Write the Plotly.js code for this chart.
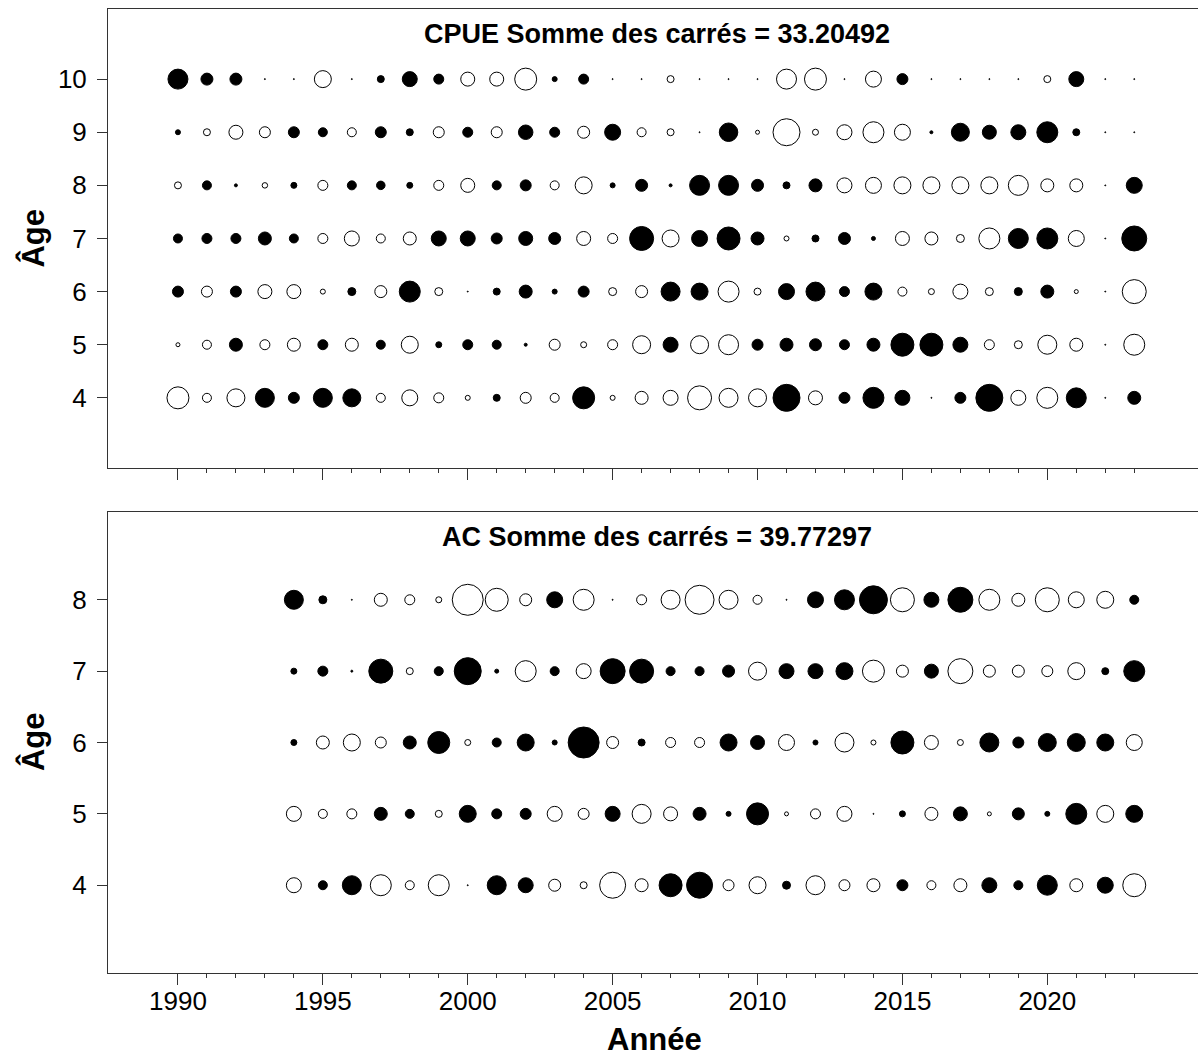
<!DOCTYPE html>
<html>
<head>
<meta charset="utf-8">
<script src="https://cdn.plot.ly/plotly-3.0.1.min.js"></script>
<style>
  html, body { margin: 0; padding: 0; background: #fff; }
  #chart { width: 1198px; height: 1057px; }
</style>
</head>
<body>
<div id="chart"></div>
<script>
// Residuals by age (rows) and year (columns). Filled = positive, open = negative.
const cpueYears = [1990,1991,1992,1993,1994,1995,1996,1997,1998,1999,
                   2000,2001,2002,2003,2004,2005,2006,2007,2008,2009,
                   2010,2011,2012,2013,2014,2015,2016,2017,2018,2019,
                   2020,2021,2022,2023];
const cpueAges = [4,5,6,7,8,9,10];

const cpueAge10 = [2.0,1.2,1.2,0.1,0.1,-1.7,0.1,0.7,1.5,1.0,
                   -1.4,-1.4,-2.2,0.5,1.0,0.1,0.1,-0.7,0.1,0.1,
                   0.1,-2.0,-2.2,0.1,-1.6,1.1,0.1,0.1,0.1,0.1,
                   -0.7,1.5,0.1,0.1];
const cpueAge9  = [0.5,-0.7,-1.4,-1.1,1.1,0.9,-0.9,1.1,0.7,-1.1,
                   1.0,-1.1,1.45,1.0,-1.2,1.6,-0.9,-0.7,0.1,1.85,
                   -0.4,-2.7,-0.6,-1.5,-2.1,-1.6,0.3,1.8,1.4,1.5,
                   2.1,0.7,0.1,0.1];
const cpueAge8  = [-0.7,0.9,0.3,-0.55,0.6,-1.0,0.9,0.85,0.6,-1.0,
                   -1.4,0.9,1.1,-0.9,-1.7,0.5,1.2,0.3,2.0,2.0,
                   1.2,0.7,1.3,-1.5,-1.6,-1.7,-1.7,-1.7,-1.7,-2.0,
                   -1.3,-1.3,0.1,1.6];
const cpueAge7  = [0.9,1.0,1.0,1.3,0.9,-1.0,-1.5,-0.9,-1.3,1.5,
                   1.5,1.1,1.4,1.2,-1.4,-1.0,2.4,-1.7,1.6,2.3,
                   1.3,-0.5,0.7,1.2,0.4,-1.4,-1.3,-0.8,-2.1,2.0,
                   2.1,-1.6,0.1,2.5];
const cpueAge6  = [1.1,-1.1,1.1,-1.4,-1.4,-0.5,0.8,-1.2,2.1,-0.8,
                   0.1,0.7,1.3,0.5,1.1,-0.8,-1.2,1.9,1.7,-2.1,
                   -0.7,1.6,1.9,1.0,1.7,-0.9,-0.6,-1.5,-0.8,0.8,
                   1.3,-0.4,0.1,-2.4];
const cpueAge5  = [-0.4,-0.9,1.3,-1.0,-1.3,1.0,-1.3,0.9,-1.7,0.6,
                   1.0,0.9,0.3,-1.1,-0.6,-1.0,-1.8,1.5,-1.8,-2.0,
                   1.1,1.3,1.2,1.0,1.3,2.3,2.3,1.5,-1.0,-0.8,
                   -1.9,-1.3,0.1,-2.1];
const cpueAge4  = [-2.2,-0.9,-1.8,1.9,1.1,1.9,1.8,-0.9,-1.6,-1.0,
                   -0.5,0.7,-1.1,-0.9,2.2,-0.5,-1.3,-1.5,-2.4,-1.9,
                   -1.8,2.7,-1.4,1.1,2.1,1.5,0.1,1.1,2.7,-1.5,
                   -2.1,2.0,0.1,1.3];

const acYears = [1994,1995,1996,1997,1998,1999,
                 2000,2001,2002,2003,2004,2005,2006,2007,2008,2009,
                 2010,2011,2012,2013,2014,2015,2016,2017,2018,2019,
                 2020,2021,2022,2023];
const acAges = [4,5,6,7,8];

const acAge8 = [1.9,0.8,0.1,-1.3,-1.0,-0.6,
                -3.1,-2.3,-1.2,1.6,-2.1,0.1,-1.0,-1.9,-2.9,-1.9,
                -0.9,0.1,1.6,2.0,2.8,-2.4,1.5,2.5,-2.1,-1.3,
                -2.4,-1.6,-1.7,0.9];
const acAge7 = [0.6,1.0,0.2,2.4,-0.7,0.9,
                2.7,0.4,-2.1,0.9,-1.5,2.5,2.4,0.9,0.9,1.2,
                -1.8,1.5,1.5,1.7,-2.2,-1.2,1.4,-2.5,-1.2,-1.2,
                -1.1,-1.7,0.7,2.1];
const acAge6 = [0.6,-1.3,-1.7,-1.1,1.3,2.2,
                -0.6,0.9,1.7,0.5,3.1,-1.2,0.7,-1.0,-1.0,1.7,
                1.4,-1.6,0.5,-1.9,-0.5,2.3,-1.4,-0.6,1.9,1.1,
                1.8,1.8,1.7,-1.6];
const acAge5 = [-1.5,-0.9,-1.0,1.3,0.9,-0.7,
                1.7,1.0,1.1,-1.5,-1.1,1.5,-1.9,-1.4,1.3,0.5,
                2.2,-0.4,-1.0,-1.5,0.1,0.6,-1.3,1.4,-0.4,1.2,
                0.5,2.1,-1.7,1.7];
const acAge4 = [-1.5,0.9,1.9,-2.1,-0.9,-2.1,
                0.1,1.9,1.5,-1.2,-0.7,-2.6,-1.3,2.3,2.6,-1.1,
                -1.7,0.8,-1.9,-1.1,-1.3,1.1,-0.9,-1.3,1.5,0.9,
                2.0,-1.3,1.6,-2.3];

const cpueTitle = 'CPUE Somme des carrés = 33.20492';
const acTitle = 'AC Somme des carrés = 39.77297';
const majorYears = [1990,1995,2000,2005,2010,2015,2020];

// bubble diameter (px) per unit of residual
const PX_PER_UNIT = 10;

function bubbles(years, ages, rows, xa, ya) {
  const x = [], y = [], size = [], color = [], text = [];
  ages.forEach((age, i) => {
    rows[i].forEach((r, j) => {
      x.push(years[j]);
      y.push(age);
      size.push(Math.max(1, Math.abs(r) * PX_PER_UNIT));
      color.push(r >= 0 ? '#000000' : '#ffffff');
      text.push('Résidu : ' + r);
    });
  });
  return {
    type: 'scatter', mode: 'markers', x, y, text,
    xaxis: xa, yaxis: ya,
    hovertemplate: '%{x}, âge %{y}<br>%{text}<extra></extra>',
    marker: { size, color, line: { color: '#000000', width: 1 }, opacity: 1 }
  };
}

const traces = [
  bubbles(cpueYears, cpueAges,
          [cpueAge4, cpueAge5, cpueAge6, cpueAge7, cpueAge8, cpueAge9, cpueAge10], 'x', 'y'),
  bubbles(acYears, acAges,
          [acAge4, acAge5, acAge6, acAge7, acAge8], 'x2', 'y2')
];

const FONT = 'Liberation Sans, Arial, Helvetica, sans-serif';
const lineCol = '#333333';

function xAxis(anchor, labels) {
  return {
    anchor, domain: [0, 1], range: [1987.586, 2025.2],
    tickmode: 'array', tickvals: majorYears, ticktext: majorYears.map(String),
    showticklabels: labels,
    ticks: 'outside', ticklen: 11, tickwidth: 1, tickcolor: lineCol,
    minor: { tickmode: 'array', tickvals: cpueYears, ticks: 'outside',
             ticklen: 4, tickwidth: 1, tickcolor: lineCol, showgrid: false },
    showline: true, mirror: true, linecolor: lineCol, linewidth: 1,
    showgrid: false, zeroline: false,
    tickfont: { family: FONT, size: 26, color: '#000' },
    ticklabelstandoff: -6
  };
}

function yAxis(anchor, domain, range, vals) {
  return {
    anchor, domain, range,
    tickmode: 'array', tickvals: vals, ticktext: vals.map(String),
    ticks: 'outside', ticklen: 10, tickwidth: 1, tickcolor: lineCol,
    showline: true, mirror: false, linecolor: lineCol, linewidth: 1,
    showgrid: false, zeroline: false,
    tickfont: { family: FONT, size: 26, color: '#000' },
    ticklabelstandoff: 5
  };
}

const layout = {
  width: 1198, height: 1057,
  margin: { l: 108, r: 0, t: 9, b: 84 },
  paper_bgcolor: '#ffffff', plot_bgcolor: '#ffffff',
  showlegend: false,
  font: { family: FONT, color: '#000' },
  xaxis: xAxis('y', false),
  yaxis: yAxis('x', [0.5239, 1], [2.68, 11.32], cpueAges),
  xaxis2: xAxis('y2', true),
  yaxis2: yAxis('x2', [0, 0.4782], [2.77, 9.23], acAges),
  annotations: [
    { text: '<b>' + cpueTitle + '</b>', xref: 'paper', yref: 'paper',
      x: 0.5037, y: 0.9744, showarrow: false, xanchor: 'center', yanchor: 'middle',
      font: { family: FONT, size: 27, color: '#000' } },
    { text: '<b>' + acTitle + '</b>', xref: 'paper', yref: 'paper',
      x: 0.5037, y: 0.4523, showarrow: false, xanchor: 'center', yanchor: 'middle',
      font: { family: FONT, size: 27, color: '#000' } },
    { text: '<b>Année</b>', xref: 'paper', yref: 'paper',
      x: 0.501, y: -0.0695, showarrow: false, xanchor: 'center', yanchor: 'middle',
      font: { family: FONT, size: 31, color: '#000' } },
    { text: '<b>Âge</b>', xref: 'paper', yref: 'paper', textangle: -90,
      x: -0.0688, y: 0.7619, showarrow: false, xanchor: 'center', yanchor: 'middle',
      font: { family: FONT, size: 31, color: '#000' } },
    { text: '<b>Âge</b>', xref: 'paper', yref: 'paper', textangle: -90,
      x: -0.0688, y: 0.2396, showarrow: false, xanchor: 'center', yanchor: 'middle',
      font: { family: FONT, size: 31, color: '#000' } }
  ]
};

Plotly.newPlot('chart', traces, layout, { displayModeBar: false, staticPlot: false });
</script>
</body>
</html>
